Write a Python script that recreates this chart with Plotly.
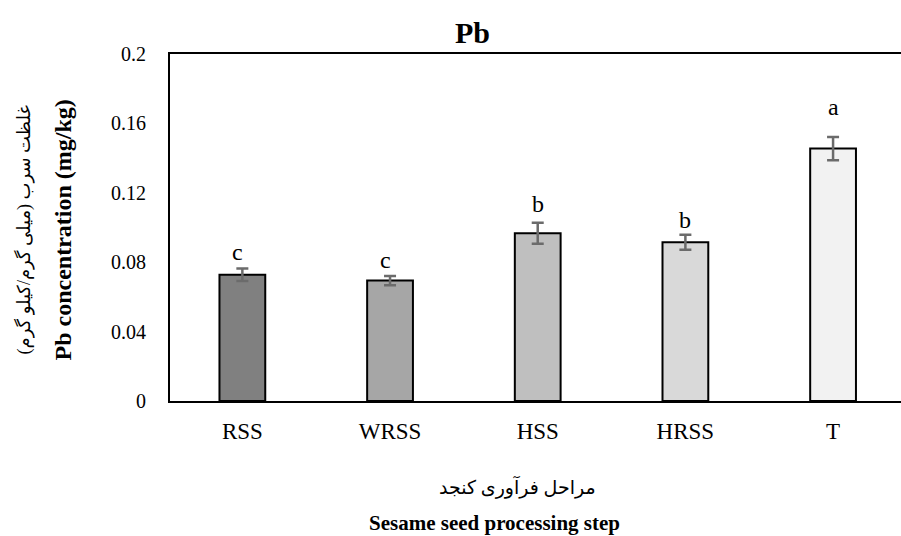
import plotly.graph_objects as go

categories = ["RSS", "WRSS", "HSS", "HRSS", "T"]
values = [0.0728, 0.0694, 0.0967, 0.0915, 0.1455]
errors = [0.0036, 0.0027, 0.0060, 0.0043, 0.0067]
letters = ["c", "c", "b", "b", "a"]
letter_y = [0.0861, 0.0815, 0.1133, 0.1046, 0.1694]
bar_colors = ["#808080", "#a6a6a6", "#bfbfbf", "#d9d9d9", "#f2f2f2"]
y_ticks = [0, 0.04, 0.08, 0.12, 0.16, 0.2]
y_ticklabels = ["0", "0.04", "0.08", "0.12", "0.16", "0.2"]

FONT = "Liberation Serif, Times New Roman, DejaVu Sans, serif"

fig = go.Figure()
fig.add_trace(go.Bar(
    x=categories, y=values, width=0.31,
    marker=dict(color=bar_colors, line=dict(color="black", width=2)),
    error_y=dict(type="data", array=errors, visible=True,
                 color="#6b6b6b", thickness=2.5, width=6),
    showlegend=False,
))

for c, t, ly in zip(categories, letters, letter_y):
    fig.add_annotation(x=c, y=ly, text=t, showarrow=False,
                       xshift=-5 if t == "c" else 0,
                       font=dict(family=FONT, size=24, color="black"))

# Title
fig.add_annotation(xref="paper", yref="paper", x=0.4145, y=1, yshift=22,
                   text="<b>Pb</b>", showarrow=False, xanchor="center", yanchor="middle",
                   font=dict(family=FONT, size=30, color="black"))
# Y-axis titles
fig.add_annotation(xref="paper", yref="paper", x=0, y=0.5, xshift=-147, yshift=-3,
                   text="غلظت سرب (میلی گرم/کیلو گرم)", textangle=-90, showarrow=False,
                   xanchor="center", yanchor="middle",
                   font=dict(family=FONT, size=18, color="black"))
fig.add_annotation(xref="paper", yref="paper", x=0, y=0.5, xshift=-108, yshift=-3,
                   text="<b>Pb concentration (mg/kg)</b>", textangle=-90, showarrow=False,
                   xanchor="center", yanchor="middle",
                   font=dict(family=FONT, size=24, color="black"))
# X-axis titles
fig.add_annotation(xref="paper", yref="paper", x=(517 - 170) / 731, y=0, yshift=-86,
                   text="مراحل فرآوری کنجد", showarrow=False,
                   xanchor="center", yanchor="middle",
                   font=dict(family=FONT, size=19, color="black"))
fig.add_annotation(xref="paper", yref="paper", x=(494 - 170) / 731, y=0, yshift=-122,
                   text="<b>Sesame seed processing step</b>", showarrow=False,
                   xanchor="center", yanchor="middle",
                   font=dict(family=FONT, size=21, color="black"))

fig.update_layout(
    width=901, height=536,
    margin=dict(l=170, r=0, t=54, b=135),
    paper_bgcolor="white", plot_bgcolor="white",
    font=dict(family=FONT, color="black"),
    bargap=0.5,
)
fig.update_xaxes(
    type="category", range=[-0.49, 4.46],
    showline=True, linecolor="black", linewidth=2, mirror=True,
    showgrid=False, ticks="", ticklabelstandoff=8,
    tickfont=dict(family=FONT, size=23, color="black"),
)
fig.update_yaxes(
    range=[0, 0.2], tickvals=y_ticks, ticktext=y_ticklabels,
    showline=True, linecolor="black", linewidth=2,
    showgrid=False, zeroline=False, ticks="", ticklabelstandoff=18,
    tickfont=dict(family=FONT, size=20, color="black"),
)

fig.write_html(
    "out.html",
    config={"displayModeBar": False},
    post_script="document.body.style.margin='0';document.body.style.overflow='hidden';",
)
